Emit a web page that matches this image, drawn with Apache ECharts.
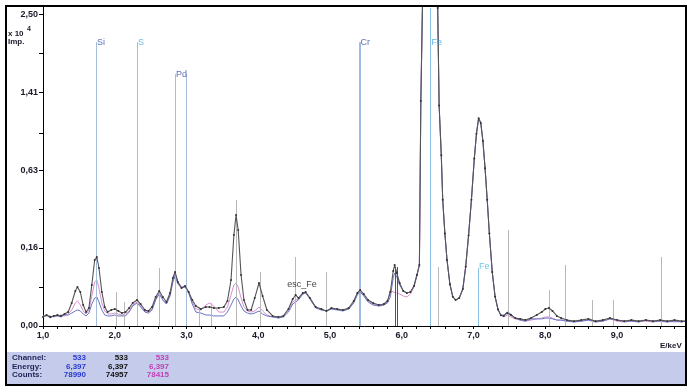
<!DOCTYPE html>
<html><head><meta charset="utf-8">
<script src="https://cdn.jsdelivr.net/npm/echarts@6/dist/echarts.min.js"></script>
<style>html,body{margin:0;padding:0;background:#fff}#c{width:689px;height:392px}</style>
</head><body><div id="c"></div>
<script>
// Energy (keV)
const energy = [1.00,1.05,1.10,1.15,1.20,1.25,1.30,1.35,1.40,1.45,1.48,1.52,1.56,1.60,1.64,1.68,1.72,1.75,1.78,1.82,1.86,1.90,1.95,2.00,2.05,2.10,2.15,2.20,2.25,2.31,2.36,2.42,2.47,2.52,2.57,2.62,2.67,2.72,2.77,2.81,2.84,2.88,2.93,2.98,3.03,3.08,3.13,3.20,3.27,3.32,3.38,3.45,3.52,3.57,3.62,3.66,3.69,3.72,3.76,3.80,3.85,3.90,3.95,4.01,4.06,4.12,4.20,4.28,4.35,4.42,4.48,4.52,4.56,4.62,4.66,4.72,4.80,4.88,4.95,5.02,5.10,5.18,5.26,5.33,5.38,5.42,5.47,5.53,5.60,5.68,5.75,5.80,5.84,5.88,5.90,5.93,5.97,6.02,6.07,6.12,6.17,6.21,6.245,6.265,6.29,6.32,6.36,6.40,6.44,6.47,6.50,6.52,6.55,6.57,6.60,6.63,6.67,6.71,6.75,6.80,6.85,6.89,6.93,6.97,7.01,7.04,7.07,7.10,7.13,7.16,7.19,7.22,7.26,7.30,7.34,7.38,7.42,7.47,7.52,7.58,7.65,7.72,7.80,7.88,7.95,8.00,8.05,8.10,8.16,8.22,8.30,8.40,8.50,8.60,8.70,8.80,8.90,9.00,9.10,9.20,9.30,9.40,9.50,9.60,9.70,9.80,9.90,9.96];
// Counts (x10^4 Imp.), three spectra
const blackCounts = [.0021,.0031,.0021,.0026,.0031,.0026,.0037,.0050,.0136,.0315,.0391,.0297,.0113,.0050,.0083,.0432,.1119,.1223,.0864,.0297,.0093,.0050,.0066,.0074,.0058,.0043,.0050,.0083,.0136,.0174,.0124,.0066,.0058,.0093,.0216,.0315,.0216,.0148,.0280,.0592,.0749,.0497,.0371,.0411,.0297,.0174,.0103,.0074,.0093,.0093,.0083,.0083,.0093,.0161,.0544,.2127,.3165,.2367,.0668,.0174,.0066,.0066,.0201,.0475,.0231,.0066,.0026,.0021,.0026,.0074,.0187,.0247,.0201,.0280,.0297,.0201,.0093,.0074,.0058,.0083,.0074,.0066,.0083,.0161,.0280,.0333,.0263,.0174,.0136,.0113,.0124,.0161,.0297,.0777,.0956,.0722,.0475,.0315,.0280,.0297,.0411,.0668,.0956,1.30,2.80,4.80,7.00,7.4957,6.60,4.50,2.60,1.25,0.75,0.41,0.22,0.112,0.045,0.022,0.0174,0.0201,0.035,0.09,0.21,0.41,0.72,0.95,1.11,1.06,0.88,0.64,0.41,0.22,0.075,0.022,0.007,0.003,.0026,.0043,.0031,.0016,.0013,.0009,.0016,.0031,.0050,.0074,.0083,.0058,.0026,.0016,.0009,.0006,.0009,.0013,.0006,.0009,.0016,.0009,.0006,.0009,.0006,.0009,.0006,.0009,.0006,.0009,.0006,.0006];
const pinkCounts = [.0026,.0026,.0026,.0021,.0026,.0031,.0026,.0037,.0066,.0136,.0161,.0113,.0058,.0037,.0066,.0231,.0497,.0544,.0371,.0136,.0058,.0037,.0037,.0043,.0037,.0031,.0037,.0058,.0113,.0148,.0103,.0058,.0050,.0074,.0187,.0280,.0174,.0124,.0247,.0544,.0695,.0497,.0391,.0411,.0297,.0148,.0074,.0066,.0113,.0136,.0103,.0050,.0050,.0093,.0247,.0432,.0475,.0391,.0201,.0093,.0058,.0050,.0058,.0093,.0058,.0031,.0021,.0021,.0026,.0066,.0148,.0174,.0187,.0263,.0280,.0201,.0093,.0066,.0058,.0074,.0074,.0066,.0074,.0148,.0263,.0315,.0247,.0161,.0124,.0103,.0113,.0148,.0333,.0297,.0297,.0280,.0263,.0231,.0216,.0263,.0391,.0642,.0956,1.30,2.80,4.80,7.20,7.8415,6.80,4.50,2.60,1.25,0.75,0.41,0.22,0.112,0.045,0.022,0.0174,0.0201,0.035,0.09,0.21,0.41,0.72,0.95,1.11,1.06,0.88,0.64,0.41,0.22,0.075,0.022,0.007,0.003,.0021,.0031,.0021,.0013,.0009,.0006,.0009,.0013,.0016,.0021,.0021,.0016,.0009,.0009,.0006,.0006,.0006,.0009,.0006,.0006,.0013,.0006,.0004,.0006,.0006,.0006,.0004,.0006,.0006,.0004,.0006,.0006];
const blueCounts = [.0021,.0031,.0017,.0026,.0026,.0021,.0031,.0031,.0043,.0058,.0066,.0058,.0037,.0026,.0043,.0124,.0201,.0216,.0148,.0066,.0031,.0026,.0026,.0031,.0026,.0026,.0026,.0050,.0103,.0136,.0093,.0050,.0043,.0066,.0174,.0263,.0174,.0124,.0231,.0497,.0642,.0453,.0371,.0391,.0280,.0124,.0050,.0043,.0031,.0031,.0026,.0026,.0026,.0050,.0113,.0187,.0216,.0174,.0103,.0058,.0043,.0037,.0043,.0058,.0037,.0026,.0021,.0016,.0021,.0050,.0124,.0148,.0174,.0263,.0280,.0187,.0083,.0066,.0058,.0074,.0066,.0058,.0074,.0136,.0247,.0297,.0231,.0148,.0113,.0103,.0113,.0136,.0216,.0592,.0722,.0617,.0432,.0315,.0280,.0297,.0411,.0668,.0956,1.30,2.80,4.80,7.30,7.8990,6.80,4.50,2.60,1.25,0.75,0.41,0.22,0.112,0.045,0.022,0.0174,0.0201,0.035,0.09,0.21,0.41,0.72,0.95,1.11,1.06,0.88,0.64,0.41,0.22,0.075,0.022,0.007,0.003,.0031,.0050,.0037,.0016,.0009,.0006,.0013,.0013,.0013,.0016,.0016,.0013,.0009,.0009,.0006,.0004,.0006,.0009,.0004,.0006,.0013,.0009,.0006,.0006,.0004,.0009,.0006,.0006,.0004,.0006,.0004,.0006];

// Y ticks (sqrt-scaled display, values in x10^4 Imp.)
const yTickLabels = ['0,00','0,16','0,63','1,41','2,50'];
const yTickValues = [0, 0.15625, 0.625, 1.40625, 2.5];
const yMinorTickValues = [0.0390625, 0.3515625, 0.9570313, 1.9140625];
const xTickLabelValues = [1,2,3,4,5,6,7,8,9];

// Element marker lines
const elemNames = ['Si','S','Pd','','Cr','Fe','Fe'];
const elemEnergy = [1.74, 2.31, 2.84, 2.99, 5.41, 6.40, 7.06];
const elemTop = [2.07, 2.07, 1.63, 1.63, 2.07, 2.60, 0.086];
const elemLabelLevel = [2.07, 2.07, 1.63, 1.63, 2.07, 2.07, 0.092];
const elemColors = ['#2f4ea6','#4ba8c6','#2f4ea6','#2f4ea6','#2f4ea6','#3a9fd6','#4fb4e6'];
// minor marker lines (grey)
const minorEnergy = [2.02, 2.13, 2.62, 3.18, 3.34, 3.69, 4.03, 4.52, 4.95, 6.51, 7.49, 8.05, 8.28, 8.65, 8.94, 9.61];
const minorTop = [0.0297, 0.0148, 0.0864, 0.0093, 0.0136, 0.408, 0.0749, 0.1223, 0.0749, 0.0894, 0.2368, 0.033, 0.0956, 0.0174, 0.0174, 0.1223];
const darkEnergy = [5.905, 5.935];
const darkTop = [0.0894, 0.0894];

const annotE = [4.61], annotV = [0.0432], annotText = ['esc_Fe'];

const panelRows = ['Channel:','Energy:','Counts:'];
const panelBlue = ['533','6,397','78990'];
const panelBlack = ['533','6,397','74957'];
const panelPink = ['533','6,397','78415'];

const s = Math.sqrt;
const FONT = 'Arial, "Liberation Sans", sans-serif';
const chart = echarts.init(document.getElementById('c'), null, {renderer:'canvas'});

const pts = arr => energy.map((e,i)=>[e, s(arr[i])]);

const elemLines = elemEnergy.map((e,i)=>[
  {coord:[e,0], lineStyle:{color: i>=5 ? '#8cc0e6' : (i===4 ? '#7fa6d6' : '#a6bcdc'), width: i===4?1.5:1}},
  {coord:[e,s(elemTop[i])]}
]);
const minorLines = minorEnergy.map((e,i)=>[{coord:[e,0]},{coord:[e,s(minorTop[i])]}]);
const darkLines = darkEnergy.map((e,i)=>[{coord:[e,0]},{coord:[e,s(darkTop[i])]}]);

const panelGraphics = [];
panelRows.forEach((r,i)=>{
  const y = 358 + i*8.5;
  const base = {fontFamily:FONT, fontWeight:'bold', fontSize:8, verticalAlign:'middle'};
  panelGraphics.push({type:'text', x:12, y:y, style:Object.assign({text:r, fill:'#1c2358', align:'left'}, base), z:20});
  panelGraphics.push({type:'text', x:86, y:y, style:Object.assign({text:panelBlue[i], fill:'#2a3ad0', align:'right'}, base), z:20});
  panelGraphics.push({type:'text', x:128, y:y, style:Object.assign({text:panelBlack[i], fill:'#111', align:'right'}, base), z:20});
  panelGraphics.push({type:'text', x:169, y:y, style:Object.assign({text:panelPink[i], fill:'#c040b8', align:'right'}, base), z:20});
});

chart.setOption({
  animation:false,
  backgroundColor:'#fff',
  grid:{left:43, right:3, top:6, bottom:66, containLabel:false},
  xAxis:{
    type:'value', min:1, max:9.96, interval:0.2,
    axisLine:{lineStyle:{color:'#000', width:1}},
    axisTick:{show:true, length:3, lineStyle:{color:'#000'}},
    axisLabel:{
      margin:5, color:'#1a1a2a', fontFamily:FONT, fontWeight:'bold', fontSize:9,
      showMaxLabel:false,
      formatter: v => xTickLabelValues.some(t=>Math.abs(t-v)<1e-6) ? v.toFixed(1).replace('.',',') : ''
    },
    splitLine:{show:false}
  },
  yAxis:{
    type:'value', min:0, max:1.622,
    axisLine:{show:true, lineStyle:{color:'#000', width:1}},
    axisTick:{show:true, length:4, lineStyle:{color:'#000'},
      customValues: yTickValues.concat(yMinorTickValues).map(s)},
    axisLabel:{
      margin:5, color:'#1a1a2a', fontFamily:FONT, fontWeight:'bold', fontSize:9,
      customValues: yTickValues.map(s),
      formatter: v => { let best=0, d=1e9; yTickValues.forEach((t,i)=>{const dd=Math.abs(s(t)-v); if(dd<d){d=dd;best=i;}}); return yTickLabels[best]; }
    },
    splitLine:{show:false}
  },
  series:[
    {type:'line', name:'markers', data:[], silent:true,
      markLine:{symbol:['none','none'], silent:true, label:{show:false}, lineStyle:{type:'solid', color:'#b8b8b8', width:1}, data: minorLines}},
    {type:'line', name:'markersDark', data:[], silent:true,
      markLine:{symbol:['none','none'], silent:true, label:{show:false}, lineStyle:{type:'solid', color:'#555', width:1}, data: darkLines}},
    {type:'line', name:'elements', data:[], silent:true,
      markLine:{symbol:['none','none'], silent:true, label:{show:false}, lineStyle:{type:'solid', color:'#a6bcdc', width:1}, data: elemLines}},
    {type:'line', name:'pink', data:pts(pinkCounts), showSymbol:false, lineStyle:{color:'#d98fcf', width:1}, z:3},
    {type:'line', name:'blue', data:pts(blueCounts), showSymbol:false, lineStyle:{color:'#6676c4', width:1}, z:4},
    {type:'line', name:'black', data:pts(blackCounts), showSymbol:true, symbol:'circle', symbolSize:2,
      itemStyle:{color:'#333'}, lineStyle:{color:'#555', width:1.1}, z:5},
    {type:'scatter', name:'elemLabels', symbolSize:0, silent:true, z:10,
      data: elemEnergy.map((e,i)=>({value:[e, s(elemLabelLevel[i])], name:elemNames[i],
        label:{show: elemNames[i]!=='', position:'right', distance:1, formatter:elemNames[i], color:elemColors[i],
          fontFamily:FONT, fontSize:9, backgroundColor: i===6 ? '#fff' : 'transparent'}}))},
    {type:'scatter', name:'annot', symbolSize:0, silent:true, z:10,
      data: annotE.map((e,i)=>({value:[e, s(annotV[i])], label:{show:true, position:'inside', formatter:annotText[i], color:'#111', fontFamily:FONT, fontSize:9}}))}
  ],
  graphic:[
    {type:'rect', shape:{x:7, y:352, width:679, height:33}, style:{fill:'#c5cbea'}, z:1},
    {type:'text', x:8, y:34, style:{text:'x 10', fontFamily:FONT, fontWeight:'bold', fontSize:8, fill:'#1a1a2a', verticalAlign:'middle'}},
    {type:'text', x:27, y:29, style:{text:'4', fontFamily:FONT, fontWeight:'bold', fontSize:7, fill:'#1a1a2a', verticalAlign:'middle'}},
    {type:'text', x:8, y:42, style:{text:'Imp.', fontFamily:FONT, fontWeight:'bold', fontSize:8, fill:'#1a1a2a', verticalAlign:'middle'}},
    {type:'text', x:660, y:346, style:{text:'E/keV', fontFamily:FONT, fontWeight:'bold', fontSize:8, fill:'#1a1a2a', verticalAlign:'middle'}},
    ...panelGraphics,
    {type:'rect', shape:{x:6, y:6, width:680, height:379}, style:{fill:null, stroke:'#000', lineWidth:2}, z:30}
  ]
});
</script></body></html>
